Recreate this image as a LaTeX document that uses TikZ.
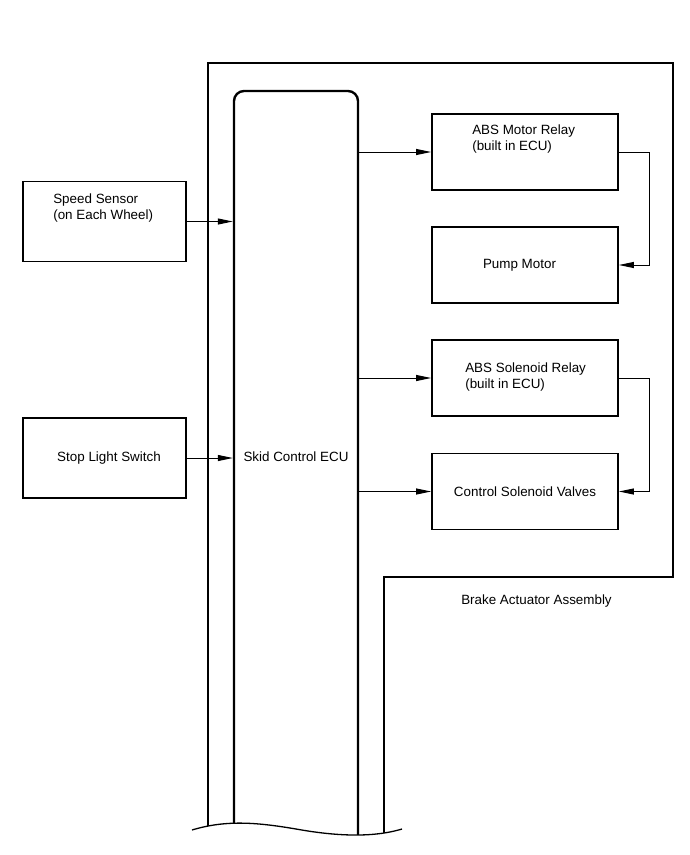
\documentclass[tikz,border=0pt]{standalone}
\usepackage{fontspec}
\setmainfont{Liberation Sans}
\usetikzlibrary{arrows.meta,positioning,calc}

\begin{document}
\begin{tikzpicture}[x=1pt, y=-1pt,
    box/.style={draw, line width=1.8pt, minimum width=163pt, minimum height=80pt,
                inner sep=0pt, font=\fontsize{13.4}{16}\selectfont},
    rbox/.style={box, minimum width=186pt, minimum height=76pt},
    txt/.style={inner sep=0pt, align=left, anchor=north west, font=\fontsize{13.4}{16}\selectfont},
    ecubox/.style={draw, line width=2.4pt, rounded corners=10pt, minimum width=124pt, minimum height=779pt},
    wall/.style={line width=1.5pt},
    arr/.style={-{Triangle[length=15pt,width=6pt]}, line width=1pt}
  ]
  \useasboundingbox (0,0) rectangle (690,855);
  \draw[wall] (208,850) -- (208,63) -- (673,63) -- (673,577) -- (384,577) -- (384,850);
  \node[ecubox] (ecu) at (296,480.5) {};
  \node[font=\fontsize{13.4}{16}\selectfont] (ecutext) at (296,457) {Skid Control ECU};

  \node[box] (speed) at (104.5,221.5) {};
  \node[txt] (speedtext) at ([xshift=31pt,yshift=-13pt]speed.north west) {Speed Sensor\\(on Each Wheel)};
  \node[box] (stop) at (104.5,458) {\hspace{9pt}Stop Light Switch};

  \node[rbox] (absmotor) at (525,152) {};
  \node[txt] (absmotortext) at ([xshift=41pt,yshift=-11pt]absmotor.north west) {ABS Motor Relay\\(built in ECU)};
  \node[rbox] (pump) at (525,265) {\hspace{-11pt}Pump Motor};
  \node[rbox] (absrelay) at (525,378) {};
  \node[txt] (absrelaytext) at ([xshift=34pt,yshift=-23pt]absrelay.north west) {ABS Solenoid Relay\\(built in ECU)};
  \node[rbox] (valves) at (525,491.5) {Control Solenoid Valves};
  \node[font=\fontsize{13.4}{16}\selectfont] (assembly) at (536.5,601) {Brake Actuator Assembly};

  \draw[arr] (speed.east) -- (speed.east -| ecu.west);
  \draw[arr] (stop.east) -- (stop.east -| ecu.west);
  \draw[arr] (ecu.east |- absmotor.west) -- (absmotor.west);
  \draw[arr] (ecu.east |- absrelay.west) -- (absrelay.west);
  \draw[arr] (ecu.east |- valves.west) -- (valves.west);
  \draw[arr] (absmotor.east) -- ++(31,0) |- (pump.east);
  \draw[arr] (absrelay.east) -- ++(31,0) |- (valves.east);

  \fill[white] (192,830) .. controls (225,820) and (255,822) .. (296,829)
    .. controls (335,836) and (372,838) .. (402,829) -- (402,880) -- (192,880) -- cycle;
  \draw[line width=1.3pt] (192,830) .. controls (225,820) and (255,822) .. (296,829)
    .. controls (335,836) and (372,838) .. (402,829);
\end{tikzpicture}
\end{document}
